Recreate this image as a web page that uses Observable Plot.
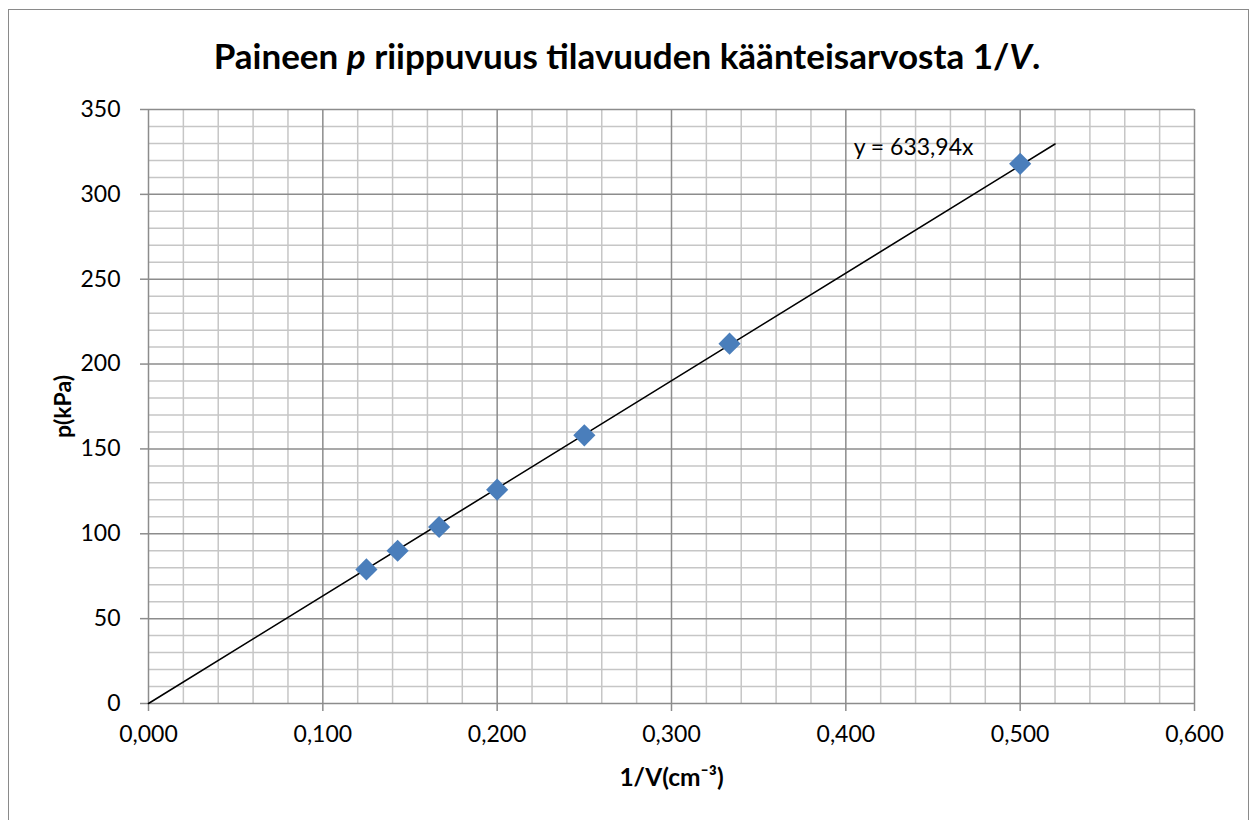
<!DOCTYPE html>
<html>
<head>
<meta charset="utf-8">
<script src="https://cdn.jsdelivr.net/npm/d3@7"></script>
<script src="https://cdn.jsdelivr.net/npm/@observablehq/plot@0.6"></script>
<style>
  html, body { margin: 0; padding: 0; background: #fff; }
  #frame { position: absolute; left: 8px; top: 9px; width: 1241px; height: 830px; border: 1px solid #8a8a8a; box-sizing: border-box; }
  #title { position: absolute; left: 0; top: 34px; width: 1254px; text-align: center; font-family: Lato, "Open Sans", sans-serif; font-weight: bold; font-size: 35px; color: #000; }
  #chart { position: absolute; left: 0; top: 0; }
</style>
</head>
<body>
<div id="frame"></div>
<div id="chart"></div>
<div id="title">Paineen <i>p</i> riippuvuus tilavuuden käänteisarvosta 1/<i>V</i>.</div>
<script>
// Data
const invV = [0.125, 0.1429, 0.1667, 0.2, 0.25, 0.3333, 0.5];
const pressure = [79, 90, 104, 126, 158, 212, 318];
const slope = 633.94;
const trendX = [0, 0.52];
const xMajor = [0, 0.1, 0.2, 0.3, 0.4, 0.5, 0.6];
const xMinor = [0.02,0.04,0.06,0.08,0.12,0.14,0.16,0.18,0.22,0.24,0.26,0.28,0.32,0.34,0.36,0.38,0.42,0.44,0.46,0.48,0.52,0.54,0.56,0.58];
const yMajor = [0, 50, 100, 150, 200, 250, 300, 350];
const yMinor = [10,20,30,40,60,70,80,90,110,120,130,140,160,170,180,190,210,220,230,240,260,270,280,290,310,320,330,340];
const eqLabel = "y = 633,94x";

const points = invV.map((x, i) => ({x, y: pressure[i]}));
const trend = trendX.map(x => ({x, y: slope * x}));
const fmtX = d => d3.format(".3f")(d).replace(".", ",");

const plot = Plot.plot({
  width: 1254,
  height: 820,
  marginLeft: 148,
  marginRight: 60,
  marginTop: 109,
  marginBottom: 117,
  style: { fontFamily: "Lato, 'Open Sans', sans-serif", background: "transparent" },
  x: { domain: [0, 0.6] },
  y: { domain: [0, 350] },
  marks: [
    Plot.ruleX(xMinor, { stroke: "#c6c6c6", strokeWidth: 1.5 }),
    Plot.ruleY(yMinor, { stroke: "#c6c6c6", strokeWidth: 1.5 }),
    Plot.ruleX(xMajor, { stroke: "#8c8c8c", strokeWidth: 1.5 }),
    Plot.ruleY(yMajor, { stroke: "#8c8c8c", strokeWidth: 1.5 }),
    Plot.axisX({ ticks: xMajor, tickFormat: fmtX, tickSize: 8, tickPadding: 14, fontSize: 23, stroke: "#8c8c8c", strokeWidth: 1.5, color: "#000", label: null }),
    Plot.axisY({ ticks: yMajor, tickFormat: d3.format("d"), tickSize: 8, tickPadding: 20, fontSize: 23, stroke: "#8c8c8c", strokeWidth: 1.5, label: null }),
    Plot.line(trend, { x: "x", y: "y", stroke: "#000", strokeWidth: 1.6 }),
    Plot.dot(points, { x: "x", y: "y", symbol: "diamond2", r: 10, fill: "#4a7ebb", stroke: "none" }),
    Plot.text([{x: 0.4045, y: 327.5}], { x: "x", y: "y", text: () => eqLabel, textAnchor: "start", fontSize: 23, fill: "#000" }),
    Plot.text([{x: 0.3, y: 0}], { x: "x", y: "y", text: () => "1/V(cm⁻³)", dy: 75, fontSize: 24.5, fontWeight: "bold", fill: "#000" }),
    Plot.text([{x: 0, y: 175}], { x: "x", y: "y", text: () => "p(kPa)", dx: -85, rotate: -90, fontSize: 23, fontWeight: "bold", fill: "#000" })
  ]
});
document.getElementById("chart").appendChild(plot);
</script>
</body>
</html>
